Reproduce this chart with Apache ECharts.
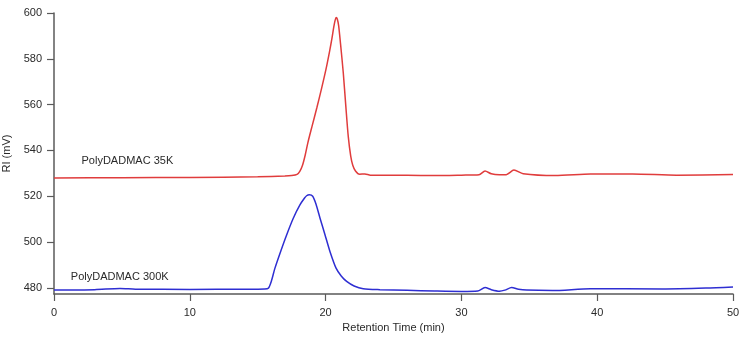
<!DOCTYPE html>
<html>
<head>
<meta charset="utf-8">
<script src="https://cdn.jsdelivr.net/npm/echarts@6/dist/echarts.min.js"></script>
<style>html,body{margin:0;padding:0;background:#fff}#c{width:746px;height:337px}</style>
</head>
<body>
<div id="c"></div>
<script>
// Retention time (min) and RI (mV) for PolyDADMAC 35K
const time35 = [0, 5, 10, 15, 17, 17.5, 17.9, 18.1, 18.3, 18.5, 18.7, 19.0, 19.35, 19.7, 20.03, 20.3, 20.47, 20.6, 20.7, 20.78, 20.86, 20.96, 21.1, 21.3, 21.48, 21.67, 21.85, 22.0, 22.2, 22.5, 22.9, 23.3, 24, 26, 28, 30, 31.3, 31.74, 32.2, 32.8, 33.3, 33.87, 34.55, 36.9, 39.5, 42.6, 45.85, 50];
const ri35   = [528.0, 528.1, 528.2, 528.5, 528.8, 529.0, 529.5, 530.8, 533.5, 538.0, 543.5, 550.5, 558.5, 567.0, 575.5, 583.5, 589.0, 593.8, 596.8, 598.0, 597.4, 594.5, 586.5, 574.0, 560.0, 546.0, 537.5, 533.5, 531.0, 529.6, 529.7, 529.2, 529.2, 529.1, 529.0, 529.2, 529.4, 531.0, 529.8, 529.4, 529.4, 531.4, 529.8, 529.0, 529.7, 529.75, 529.2, 529.5];
// Retention time (min) and RI (mV) for PolyDADMAC 300K
const time300 = [0, 3, 4.86, 6, 10, 14, 15.5, 15.78, 16.0, 16.27, 16.69, 17.13, 17.62, 18.11, 18.45, 18.6, 18.8, 19.05, 19.29, 19.59, 19.96, 20.32, 20.77, 21.15, 21.55, 22.1, 22.77, 24, 26, 28, 30, 31.2, 31.74, 32.2, 32.8, 33.2, 33.7, 34.2, 34.8, 36.7, 39.5, 44.8, 48, 50];
const ri300   = [479.1, 479.2, 479.7, 479.4, 479.3, 479.4, 479.5, 479.8, 482.8, 488.6, 495.9, 503.1, 510.4, 516.2, 519.2, 520.2, 520.6, 520.0, 516.6, 510.4, 503.1, 495.9, 488.6, 485.2, 482.8, 480.8, 479.6, 479.2, 478.9, 478.6, 478.4, 478.6, 480.1, 479.2, 478.55, 479.0, 480.1, 479.4, 479.0, 478.8, 479.6, 479.5, 479.9, 480.4];
// Axis ticks
const xTicks = [0, 10, 20, 30, 40, 50];
const yTicks = [480, 500, 520, 540, 560, 580, 600];
// Series names and annotation anchor points [time, RI]
const seriesNames = ['PolyDADMAC 35K', 'PolyDADMAC 300K'];
const labelAnchors = [[1.99, 535.5], [1.2, 484.7]];

const font = '"Liberation Sans", Arial, sans-serif';
const axisColor = '#5a5a5a';
const textColor = '#2a2a2a';

function pairs(xs, ys) { return xs.map((x, i) => [x, ys[i]]); }

function mkLabel(name, anchor) {
  return {
    silent: true,
    symbol: 'circle',
    symbolSize: 1,
    itemStyle: { color: 'rgba(0,0,0,0)' },
    label: { show: true, position: 'right', distance: 0, formatter: name, color: textColor, fontSize: 11, fontFamily: font },
    data: [{ coord: anchor }]
  };
}

const chart = echarts.init(document.getElementById('c'), null, { renderer: 'canvas' });
chart.setOption({
  animation: false,
  backgroundColor: '#ffffff',
  grid: { left: 54, right: 13, top: 13, bottom: 43, containLabel: false, outerBoundsMode: 'none' },
  xAxis: {
    type: 'value', min: 0, max: 50, interval: 10,
    name: 'Retention Time (min)', nameLocation: 'middle', nameGap: 26,
    nameTextStyle: { color: textColor, fontSize: 11, fontFamily: font },
    axisLine: { onZero: false, lineStyle: { color: axisColor, width: 1.5 } },
    axisTick: { show: true, length: 7, inside: false, lineStyle: { color: axisColor, width: 1.2 }, customValues: xTicks },
    axisLabel: { color: textColor, fontSize: 11, fontFamily: font, margin: 13, customValues: xTicks },
    splitLine: { show: false }
  },
  yAxis: {
    type: 'value', min: 477.3, max: 600,
    name: 'RI (mV)', nameLocation: 'middle', nameGap: 42, nameRotate: 90,
    nameTextStyle: { color: textColor, fontSize: 11, fontFamily: font },
    axisLine: { show: true, onZero: false, lineStyle: { color: axisColor, width: 1.5 } },
    axisTick: { show: true, length: 7, inside: false, lineStyle: { color: axisColor, width: 1.2 }, customValues: yTicks },
    axisLabel: { color: textColor, fontSize: 11, fontFamily: font, margin: 12, customValues: yTicks },
    splitLine: { show: false }
  },
  series: [
    {
      name: seriesNames[0], type: 'line', data: pairs(time35, ri35),
      showSymbol: false, smooth: 0.25,
      lineStyle: { color: '#e03c3c', width: 1.5 },
      markPoint: mkLabel(seriesNames[0], labelAnchors[0])
    },
    {
      name: seriesNames[1], type: 'line', data: pairs(time300, ri300),
      showSymbol: false, smooth: 0.25,
      lineStyle: { color: '#2e2ed2', width: 1.5 },
      markPoint: mkLabel(seriesNames[1], labelAnchors[1])
    }
  ]
});
</script>
</body>
</html>
